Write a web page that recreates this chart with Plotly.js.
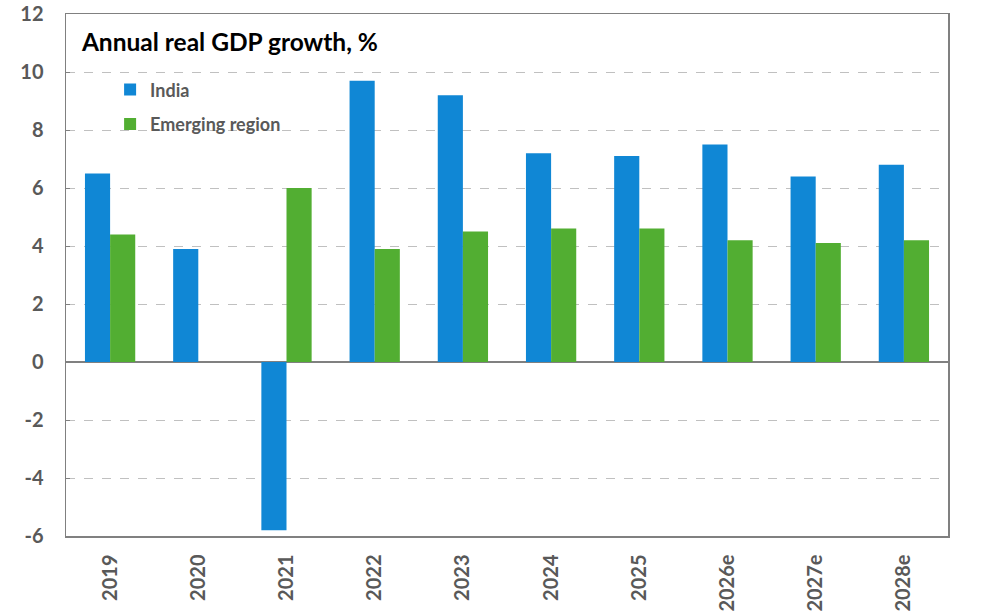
<!DOCTYPE html>
<html>
<head>
<meta charset="utf-8">
<script src="https://cdn.plot.ly/plotly-3.0.1.min.js"></script>
<style>
  html, body { margin: 0; padding: 0; background: #ffffff; }
  #chart { width: 982px; height: 614px; }
</style>
</head>
<body>
<div id="chart"></div>
<script>
// Annual real GDP growth (%), India vs. emerging region
const years = ["2019", "2020", "2021", "2022", "2023", "2024", "2025", "2026e", "2027e", "2028e"];
const india = [6.5, 3.9, -5.8, 9.7, 9.2, 7.2, 7.1, 7.5, 6.4, 6.8];
const emerging = [4.4, null, 6.0, 3.9, 4.5, 4.6, 4.6, 4.2, 4.1, 4.2];
const yTicks = [-6, -4, -2, 0, 2, 4, 6, 8, 10, 12];

const FONT = "Lato, 'Open Sans', sans-serif";
const GREY_TEXT = "#595959";

const traces = [
  {
    type: "bar", name: "India", x: years, y: india,
    marker: { color: "#1087d5" }, legendgroup: "a"
  },
  {
    type: "bar", name: "Emerging region", x: years, y: emerging,
    marker: { color: "#52ae32" }, legendgroup: "b"
  }
];

const layout = {
  width: 982, height: 614,
  margin: { l: 66, r: 34, t: 14, b: 78 },
  paper_bgcolor: "#ffffff", plot_bgcolor: "#ffffff",
  font: { family: FONT, color: GREY_TEXT },
  barmode: "group", bargap: 0.43, bargroupgap: 0,
  title: {
    text: "<b>Annual real GDP growth, %</b>",
    font: { family: FONT, size: 24.5, color: "#000000" },
    xref: "paper", yref: "paper", x: 0.018, y: 0.946,
    xanchor: "left", yanchor: "middle"
  },
  showlegend: true,
  legend: {
    x: 0.05, y: 0.89, xanchor: "left", yanchor: "top",
    bgcolor: "rgba(0,0,0,0)", tracegroupgap: 8,
    font: { family: FONT, size: 18, color: GREY_TEXT, weight: 700 },
    traceorder: "grouped"
  },
  xaxis: {
    type: "category",
    tickangle: -90,
    tickfont: { family: FONT, size: 20, color: GREY_TEXT, weight: 700 },
    showline: true, linecolor: "#808080", linewidth: 1.5, mirror: true,
    ticks: "", showgrid: false, ticklabelstandoff: 9
  },
  yaxis: {
    range: [-6, 12],
    tickvals: yTicks,
    ticktext: yTicks.map(String),
    tickfont: { family: FONT, size: 20, color: GREY_TEXT, weight: 700 },
    showline: true, linecolor: "#808080", linewidth: 1.5, mirror: true,
    ticks: "inside", ticklen: 4, tickcolor: "#808080", tickwidth: 1,
    ticklabelstandoff: 17,
    showgrid: true, gridcolor: "#c0c0c0", griddash: "dash", gridwidth: 1,
    zeroline: true, zerolinecolor: "#808080", zerolinewidth: 1.5
  }
};

Plotly.newPlot("chart", traces, layout, { displayModeBar: false, staticPlot: true });
</script>
</body>
</html>
